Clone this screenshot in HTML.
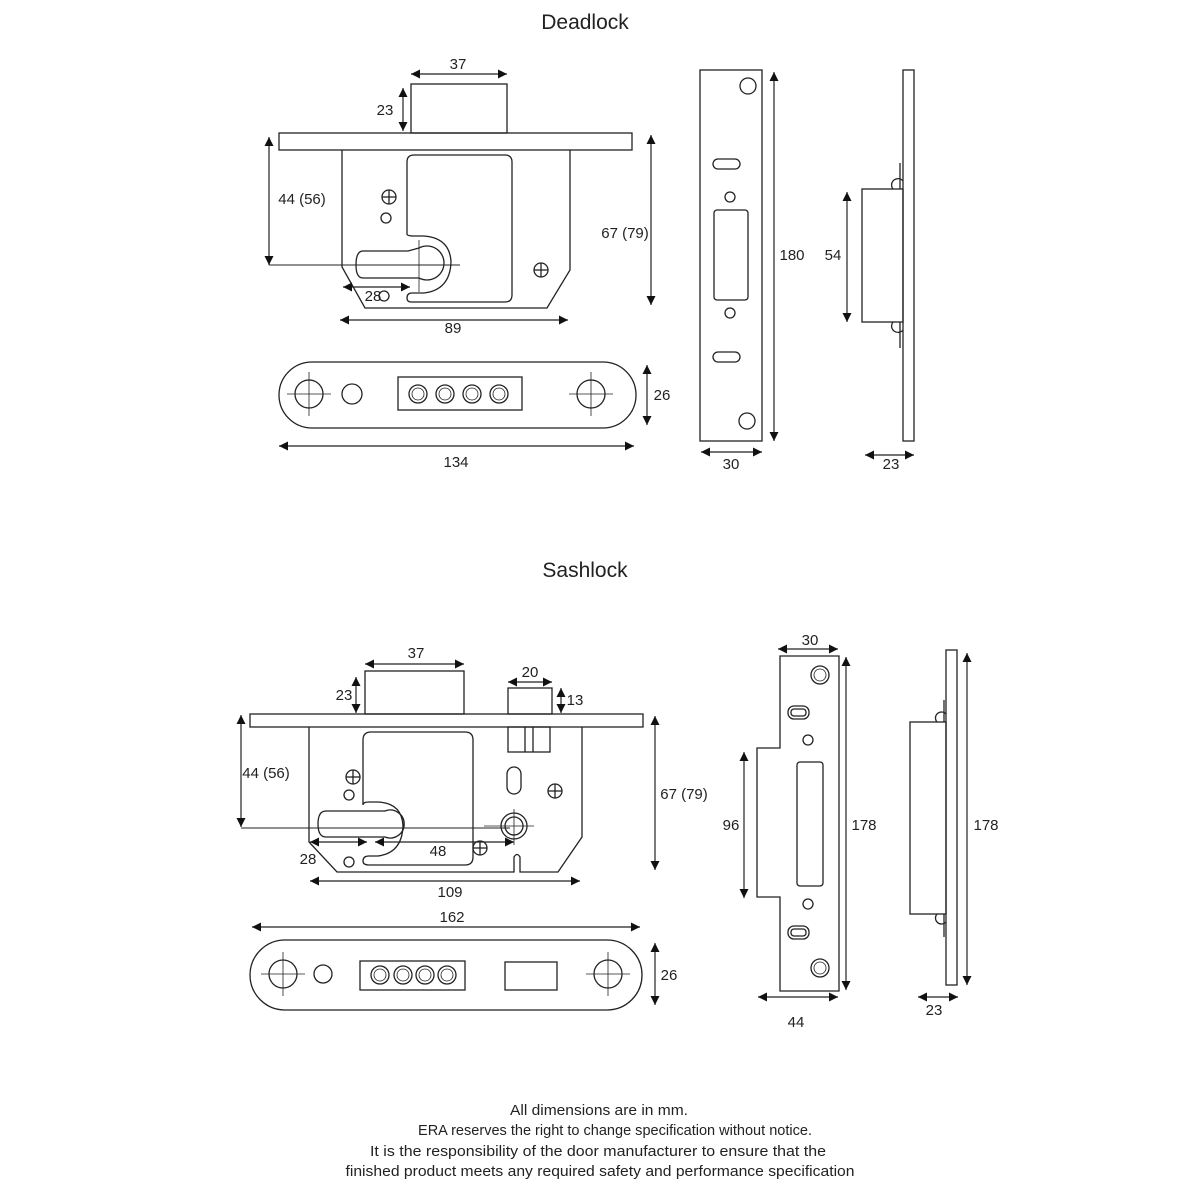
<!DOCTYPE html>
<html><head><meta charset="utf-8"><style>
html,body{margin:0;padding:0;background:#fff}
svg{display:block}
text{font-family:"Liberation Sans Narrow","Liberation Sans",sans-serif;fill:#222}
</style></head><body>
<svg width="1200" height="1200" viewBox="0 0 1200 1200" xmlns="http://www.w3.org/2000/svg">
<defs>
<marker id="a" viewBox="0 0 10 10" refX="10" refY="5" markerWidth="9" markerHeight="9" markerUnits="userSpaceOnUse" orient="auto-start-reverse"><path d="M0,0 L10,5 L0,10 z" fill="#111"/></marker>
<g id="ch"><circle r="7" fill="none"/><line x1="-7" y1="0" x2="7" y2="0"/><line x1="0" y1="-7" x2="0" y2="7"/></g>
<g id="bch"><circle r="14" fill="none"/><line x1="-22" y1="0" x2="22" y2="0" stroke-width="0.8"/><line x1="0" y1="-22" x2="0" y2="22" stroke-width="0.8"/></g>
<g id="dc"><circle r="9" fill="none"/><circle r="6" fill="none" stroke-width="0.8"/></g>
</defs>
<g fill="none" stroke="#222" stroke-width="1.3">
<!-- Deadlock -->
<rect x="279" y="133" width="353" height="17"/>
<rect x="411" y="84" width="96" height="49"/>
<path d="M342,150 V267 L365,308 H547 L570,270 V150"/>
<path d="M407,234 V162 Q407,155 414,155 H505 Q512,155 512,162 V295 Q512,302 505,302 H411 Q407,302 407,298 Q407,293 412,293 H424 Q450,290 451,262 Q450,238 424,236 H414 Q407,236 407,234 Z"/>
<path d="M419,249 A17,17 0 1 1 419,279 H363 Q356,279 356,266 Q356,252 363,252 H408 Z" transform="translate(0,-1)"/>
<line x1="419" y1="240" x2="419" y2="292" stroke-width="0.8"/>
<use href="#ch" x="389" y="197"/><circle cx="386" cy="218" r="5"/><use href="#ch" x="541" y="270"/><circle cx="384" cy="296" r="5"/>
<rect x="279" y="362" width="357" height="66" rx="33"/>
<use href="#bch" x="309" y="394"/><circle cx="352" cy="394" r="10"/><use href="#bch" x="591" y="394"/>
<rect x="398" y="377" width="124" height="33"/>
<use href="#dc" x="418" y="394"/><use href="#dc" x="445" y="394"/><use href="#dc" x="472" y="394"/><use href="#dc" x="499" y="394"/>
<rect x="700" y="70" width="62" height="371"/>
<circle cx="748" cy="86" r="8"/><rect x="713" y="159" width="27" height="10" rx="5"/><circle cx="730" cy="197" r="5"/>
<rect x="714" y="210" width="34" height="90" rx="3"/><circle cx="730" cy="313" r="5"/><rect x="713" y="352" width="27" height="10" rx="5"/><circle cx="747" cy="421" r="8"/>
<rect x="903" y="70" width="11" height="371"/>
<rect x="862" y="189" width="41" height="133"/>
<path d="M900,163 V189 M900,322 V348 M893,189 A6,6 0 0 1 903,181 M893,322 A6,6 0 0 0 903,330"/>
<!-- Sashlock -->
<rect x="250" y="714" width="393" height="13"/>
<rect x="365" y="671" width="99" height="43"/>
<rect x="508" y="688" width="44" height="26"/>
<path d="M309,727 V842 L337,872 H514 V857 Q517,852 520,857 V872 H558 L582,837 V727"/>
<rect x="508" y="727" width="42" height="25"/><line x1="525" y1="727" x2="525" y2="752"/><line x1="533" y1="727" x2="533" y2="752"/>
<path d="M363,805 V740 Q363,732 371,732 H465 Q473,732 473,740 V857 Q473,865 465,865 H369 Q363,865 363,861 Q363,856 369,856 H378 Q402,853 403,826 Q402,803 378,802 H369 Q363,802 363,805 Z"/>
<path d="M385,814 A14,14 0 1 1 385,840 H326 Q318,840 318,827 Q318,814 326,814 Z" transform="translate(0,-3)"/>
<rect x="507" y="767" width="14" height="27" rx="7"/>
<use href="#ch" x="555" y="791"/><use href="#ch" x="353" y="777"/><circle cx="349" cy="795" r="5"/>
<circle cx="514" cy="826" r="13"/><circle cx="514" cy="826" r="9"/><line x1="484" y1="826" x2="534" y2="826" stroke-width="0.8"/><line x1="514" y1="809" x2="514" y2="845" stroke-width="0.8"/>
<use href="#ch" x="480" y="848"/><circle cx="349" cy="862" r="5"/>
<rect x="250" y="940" width="392" height="70" rx="35"/>
<use href="#bch" x="283" y="974"/><circle cx="323" cy="974" r="9"/><use href="#bch" x="608" y="974"/>
<rect x="360" y="961" width="105" height="29"/>
<use href="#dc" x="380" y="975"/><use href="#dc" x="403" y="975"/><use href="#dc" x="425" y="975"/><use href="#dc" x="447" y="975"/>
<rect x="505" y="962" width="52" height="28"/>
<path d="M780,656 H839 V991 H780 V897 H757 V748 H780 Z"/>
<use href="#dc" x="820" y="675"/><rect x="788" y="706" width="21" height="13" rx="6"/><rect x="791" y="709" width="15" height="7" rx="3"/><circle cx="808" cy="740" r="5"/>
<rect x="797" y="762" width="26" height="124" rx="3"/><circle cx="808" cy="904" r="5"/><rect x="788" y="926" width="21" height="13" rx="6"/><rect x="791" y="929" width="15" height="7" rx="3"/><use href="#dc" x="820" y="968"/>
<rect x="946" y="650" width="11" height="335"/>
<rect x="910" y="722" width="36" height="192"/>
<path d="M944,700 V722 M944,914 V937 M937,722 A6,6 0 0 1 946,714 M937,914 A6,6 0 0 0 946,922"/>
</g>
<!-- dimension lines -->
<g stroke="#222" stroke-width="1.2" fill="none">
<g marker-start="url(#a)" marker-end="url(#a)">
<line x1="411" y1="74" x2="507" y2="74"/>
<line x1="403" y1="88" x2="403" y2="131"/>
<line x1="269" y1="137" x2="269" y2="265"/>
<line x1="651" y1="135" x2="651" y2="305"/>
<line x1="343" y1="287" x2="410" y2="287"/>
<line x1="340" y1="320" x2="568" y2="320"/>
<line x1="647" y1="365" x2="647" y2="425"/>
<line x1="279" y1="446" x2="634" y2="446"/>
<line x1="774" y1="72" x2="774" y2="441"/>
<line x1="701" y1="452" x2="762" y2="452"/>
<line x1="847" y1="192" x2="847" y2="322"/>
<line x1="865" y1="455" x2="914" y2="455"/>
<line x1="365" y1="664" x2="464" y2="664"/>
<line x1="356" y1="677" x2="356" y2="713"/>
<line x1="508" y1="682" x2="552" y2="682"/>
<line x1="561" y1="688" x2="561" y2="713"/>
<line x1="241" y1="715" x2="241" y2="827"/>
<line x1="655" y1="716" x2="655" y2="870"/>
<line x1="310" y1="842" x2="367" y2="842"/>
<line x1="375" y1="842" x2="514" y2="842"/>
<line x1="310" y1="881" x2="580" y2="881"/>
<line x1="252" y1="927" x2="640" y2="927"/>
<line x1="655" y1="943" x2="655" y2="1005"/>
<line x1="778" y1="649" x2="838" y2="649"/>
<line x1="846" y1="657" x2="846" y2="990"/>
<line x1="744" y1="752" x2="744" y2="898"/>
<line x1="758" y1="997" x2="838" y2="997"/>
<line x1="967" y1="653" x2="967" y2="985"/>
<line x1="918" y1="997" x2="958" y2="997"/>
</g>
<line x1="269" y1="265" x2="460" y2="265" stroke-width="0.9"/>
<line x1="241" y1="828" x2="510" y2="828" stroke-width="0.9"/>
</g>
<g font-size="15" text-anchor="middle">
<text x="585" y="29" font-size="21">Deadlock</text>
<text x="585" y="577" font-size="21">Sashlock</text>
<text x="458" y="69">37</text><text x="385" y="115">23</text><text x="302" y="204">44 (56)</text>
<text x="625" y="238">67 (79)</text><text x="373" y="301">28</text><text x="453" y="333">89</text>
<text x="662" y="400">26</text><text x="456" y="467">134</text><text x="792" y="260">180</text>
<text x="731" y="469">30</text><text x="833" y="260">54</text><text x="891" y="469">23</text>
<text x="416" y="658">37</text><text x="344" y="700">23</text><text x="530" y="677">20</text><text x="575" y="705">13</text>
<text x="266" y="778">44 (56)</text><text x="684" y="799">67 (79)</text><text x="308" y="864">28</text><text x="438" y="856">48</text>
<text x="450" y="897">109</text><text x="452" y="922">162</text><text x="669" y="980">26</text>
<text x="810" y="645">30</text><text x="864" y="830">178</text><text x="731" y="830">96</text><text x="796" y="1027">44</text>
<text x="986" y="830">178</text><text x="934" y="1015">23</text>
</g>
<g font-size="15" text-anchor="middle" fill="#333">
<text x="599" y="1115" textLength="178" lengthAdjust="spacingAndGlyphs">All dimensions are in mm.</text>
<text x="615" y="1135" textLength="394" lengthAdjust="spacingAndGlyphs">ERA reserves the right to change specification without notice.</text>
<text x="598" y="1156" textLength="456" lengthAdjust="spacingAndGlyphs">It is the responsibility of the door manufacturer to ensure that the</text>
<text x="600" y="1176" textLength="509" lengthAdjust="spacingAndGlyphs">finished product meets any required safety and performance specification</text>
</g>
</svg>
</body></html>
